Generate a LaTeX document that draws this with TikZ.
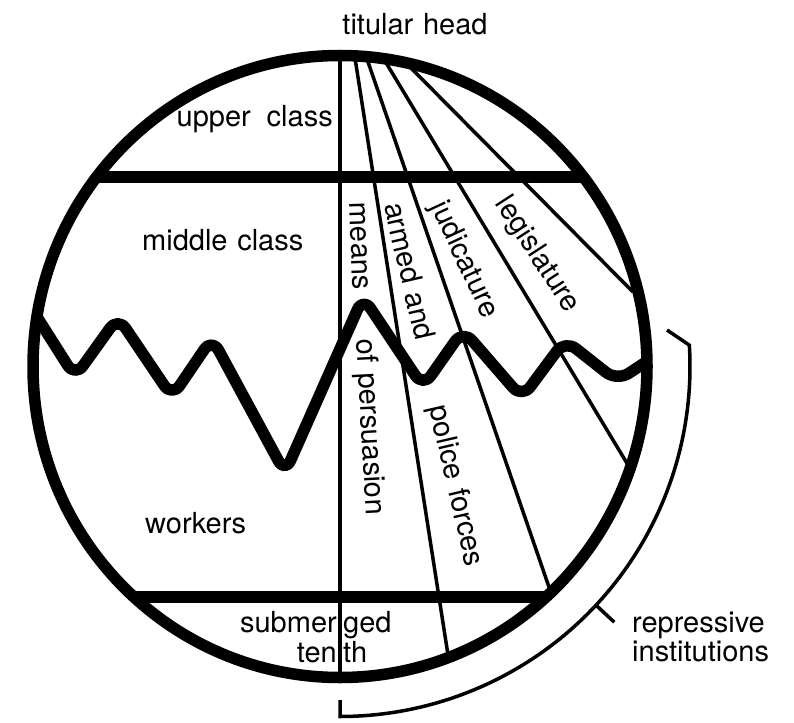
\documentclass[tikz,border=0pt]{standalone}
\usepackage{fontspec}
\setmainfont[WordSpace=1.2]{TeX Gyre Heros}
\begin{document}
\begin{tikzpicture}[x=1pt,y=-1pt,
        heavy/.style={line width=11.5pt},
        slim/.style={line width=3.5pt},
        lbl/.style={inner sep=0pt,font=\fontsize{29}{29}\selectfont}]
        \useasboundingbox (0,0) rectangle (794,722);
        \coordinate (O) at (340,366.5);
        %% Fan of institutions
        \draw[slim] (340,55) -- (340,678);
        \draw[slim] (355,58) -- (448,655);
        \draw[slim] (367,59) -- (550,590);
        \draw[slim] (385,61) -- (628,465);
        \draw[slim] (407,64) -- (633,292);
        %% Class borders
        \draw[heavy] (96,177) -- (584,177);
        \draw[heavy] (134,597) -- (546,597);
        \draw[heavy,rounded corners=14pt,line join=round] (37,317) -- (75,377) -- (118,317)
            -- (172,397) -- (212,338) -- (285,473) -- (363,297) -- (423,387)
            -- (463,330) -- (522,398) -- (565,340) -- (617,381) -- (646,362);
        %% Globe
        \draw[heavy] (O) ellipse [x radius=307, y radius=311];
        %% Bracket
        \draw[slim] (340,700) -- (340,716.5) arc[start angle=90,end angle=-3.5,radius=350]
            -- (667,330);
        \draw[slim] (595.3,604.5) -- (614.3,622.2);
        %% Labels
        \node[lbl,anchor=base]       (titular) at (415,35) {titular head};
        \node[lbl,anchor=base east]  (upper)   at (333,127) {upper\hspace{0.55em}class};
        \node[lbl,anchor=base west]  (middle)  at (142,250) {middle class};
        \node[lbl,anchor=base west]  (workers) at (145,533) {workers};
        \node[lbl,anchor=base east]  (submer)  at (337,632) {submer};
        \node[lbl,anchor=base west]  (ged)     at (343,632) {ged};
        \node[lbl,anchor=base east]  (ten)     at (337,662) {ten};
        \node[lbl,anchor=base west]  (th)      at (343,662) {th};
        \node[lbl,rotate=-88] (means)       at (359,246) {means};
        \node[lbl,rotate=-87] (persuasion)  at (369,427) {of persuasion};
        \node[lbl,rotate=-77] (armed)       at (410,271) {armed and};
        \node[lbl,rotate=-65] (judicature)  at (464,260) {judicature};
        \node[lbl,rotate=-57] (legislature) at (537,255) {legislature};
        \node[lbl,rotate=-77] (police)      at (455,486) {police forces};
        \node[lbl,align=left,anchor=north west] (repressive) at (632,612) {repressive\\institutions};
    \end{tikzpicture}
\end{document}
